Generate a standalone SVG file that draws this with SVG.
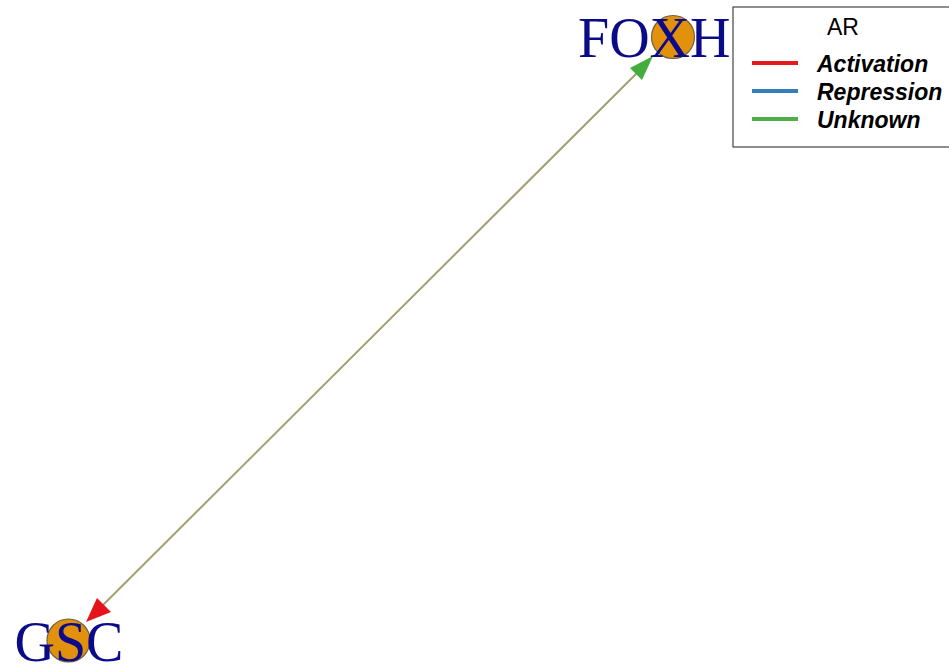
<svg xmlns="http://www.w3.org/2000/svg" width="949" height="669" viewBox="0 0 949 669">
<style>
.node circle{fill:#e2910c;stroke:#6e6040;stroke-width:1.2}
.node text{font-family:"Liberation Serif","Times New Roman",serif;font-size:56px;fill:#0b0b8a}
.edge{stroke:#a39f72;stroke-width:2;fill:none}
.leg text{font-family:"Liberation Sans",Arial,sans-serif;font-size:23px;fill:#000}
.leg .it{font-weight:bold;font-style:italic}
.leg line{stroke-width:4}
</style>
<rect width="949" height="669" fill="#fff"/>
<g id="connectors">
<line class="edge" x1="96" y1="612" x2="645" y2="65"/>
<polygon points="653,56 630,68 642,80" fill="#45ad3e"/>
<polygon points="86,622 97,598 111,612" fill="#e5141c"/>
</g>
<g id="node-GSC" class="node">
<circle cx="68.5" cy="640.5" r="21.5"/>
<text x="69" y="661" text-anchor="middle">GSC</text>
</g>
<g id="node-FOXH" class="node">
<circle cx="673" cy="37" r="21.5"/>
<text x="578" y="57">FOXH</text>
</g>
<g id="legend" class="leg">
<rect x="733" y="7" width="220" height="140" fill="#fff" stroke="#444" stroke-width="1.2"/>
<text x="843" y="35" text-anchor="middle">AR</text>
<line x1="752" y1="63" x2="798" y2="63" stroke="#e41a1c"/>
<line x1="752" y1="91" x2="798" y2="91" stroke="#377eb8"/>
<line x1="752" y1="119" x2="798" y2="119" stroke="#4daf4a"/>
<text class="it" x="817" y="72">Activation</text>
<text class="it" x="817" y="100">Repression</text>
<text class="it" x="817" y="128">Unknown</text>
</g>
</svg>
